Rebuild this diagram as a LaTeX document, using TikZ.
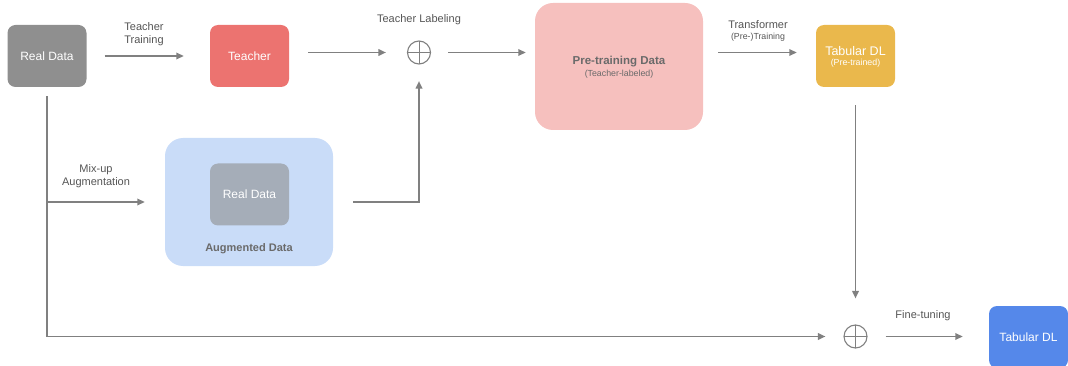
\documentclass[tikz,border=0pt]{standalone}
\usepackage{fontspec}
\setmainfont{Liberation Sans}
\usetikzlibrary{arrows.meta,calc}
\definecolor{realgray}{HTML}{8F8F8F}
\definecolor{teachred}{HTML}{EC7370}
\definecolor{prepink}{HTML}{F6C0BE}
\definecolor{tdlyellow}{HTML}{EAB84C}
\definecolor{augblue}{HTML}{C9DCF8}
\definecolor{innergray}{HTML}{A5ADB8}
\definecolor{finalblue}{HTML}{5588EA}
\definecolor{linegray}{HTML}{808080}
\definecolor{labgray}{HTML}{555555}
\definecolor{pretext}{HTML}{6A6A6A}
\tikzset{
  box/.style={rectangle, rounded corners=8pt, minimum width=79pt, minimum height=62pt, inner sep=0pt, text=white, font=\fontsize{12}{14}\selectfont, align=center},
  bigbox/.style={rectangle, rounded corners=18pt, inner sep=0pt, align=center},
  lab/.style={text=labgray, font=\fontsize{11}{13}\selectfont, align=center, inner sep=0pt},
  small/.style={font=\fontsize{8.8}{10}\selectfont, inner sep=0pt},
  conn/.style={draw=linegray, line width=1.7pt},
  arr/.style={conn, -{Triangle[length=7.5pt,width=6.5pt]}},
  oplus/.style={circle, draw=linegray, line width=1.1pt, minimum size=23pt, inner sep=0pt,
    path picture={\draw[linegray, line width=1pt] (path picture bounding box.north) -- (path picture bounding box.south) (path picture bounding box.west) -- (path picture bounding box.east);}}
}
\begin{document}
\begin{tikzpicture}[x=1pt,y=-1pt]
\useasboundingbox (0,0) rectangle (1068,366);
% nodes
\node[box, fill=realgray] (real) at (47,56) {Real Data};
\node[box, fill=teachred] (teacher) at (249.5,56) {Teacher};
\node[oplus] (plus1) at (419,52.5) {};
\node[bigbox, fill=prepink, minimum width=168pt, minimum height=127pt] (pre) at (619,66.5) {};
\node[text=pretext, font=\bfseries\fontsize{11.5}{13}\selectfont, inner sep=0pt] (pretitle) at (619,62) {Pre-training Data};
\node[text=pretext, small] (presub) at (619,74) {(Teacher-labeled)};
\node[box, fill=tdlyellow] (tdlpre) at (855.5,56) {};
\node[text=white, font=\fontsize{12.5}{14}\selectfont, inner sep=0pt] (tdltitle) at (855.5,51.5) {Tabular DL};
\node[text=white, small] (tdlsub) at (855.5,63.5) {(Pre-trained)};
\node[bigbox, fill=augblue, minimum width=168pt, minimum height=128pt] (aug) at (249,202) {};
\node[box, fill=innergray] (inner) at (249.5,194.5) {Real Data};
\node[text=pretext, font=\bfseries\fontsize{11}{13}\selectfont, inner sep=0pt] (augtitle) at (249,249) {Augmented Data};
\node[oplus] (plus2) at (855.5,336.5) {};
\node[box, fill=finalblue, minimum height=62pt] (final) at (1028.5,337) {Tabular DL};
% labels
\node[lab] (l1) at (144,34.5) {Teacher\\Training};
\node[lab] (l2) at (419,20) {Teacher Labeling};
\node[lab] (l3) at (758,25) {Transformer};
\node[lab, small] (l3b) at (758,37.5) {(Pre-)Training};
\node[lab] (l4) at (96,176.5) {Mix-up\\Augmentation};
\node[lab] (l5) at (923,316) {Fine-tuning};
% connectors
\draw[arr] ([xshift=18pt]real.east) -- ([xshift=-26pt]teacher.west);
\draw[arr] ([xshift=19pt]teacher.east |- plus1.west) -- ([xshift=-21pt]plus1.west);
\draw[arr] ([xshift=17pt]plus1.east) -- ([xshift=-9pt]pre.west |- plus1.west);
\draw[arr] ([xshift=15pt]pre.east |- plus1.east) -- ([xshift=-19pt]tdlpre.west |- plus1.east);
\draw[arr] ([yshift=-18pt]tdlpre.south) -- ([yshift=26pt]plus2.north);
\draw[arr] ([xshift=18pt]plus2.east) -- ([xshift=-26pt]final.west |- plus2.east);
\coordinate (corner) at (real.south |- plus2.west);
\draw[arr] ([yshift=-9pt]real.south) -- (corner) -- ([xshift=-18pt]plus2.west);
\draw[arr] (real.south |- aug.west) -- ([xshift=-20pt]aug.west);
\draw[arr] ([xshift=20pt]aug.east) -| ([yshift=-16.5pt]plus1.south);
\end{tikzpicture}
\end{document}
